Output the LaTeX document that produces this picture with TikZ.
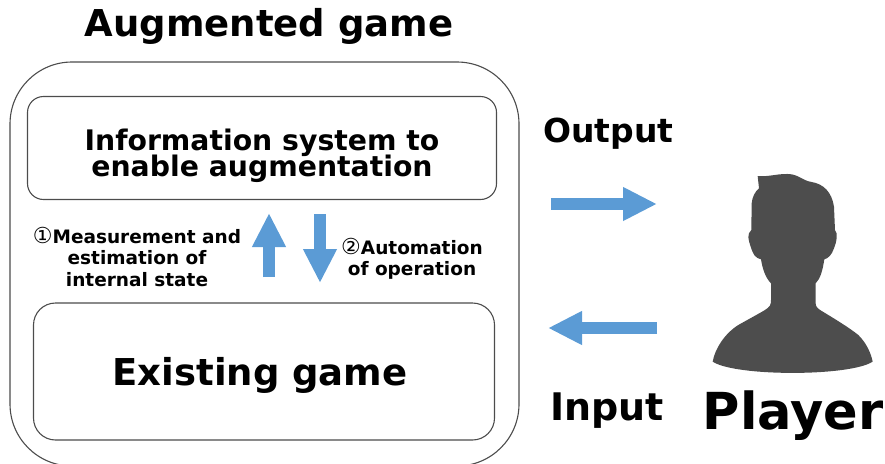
\documentclass[tikz,border=0pt]{standalone}
\usepackage{fontspec}
\setmainfont{DejaVu Sans}
\usetikzlibrary{positioning,arrows.meta}
\definecolor{arrowblue}{HTML}{5B9BD5}
\definecolor{personfill}{HTML}{4D4D4D}
\newcommand{\circnum}[1]{{\fontsize{22}{22}\mdseries\selectfont #1}}
\begin{document}
\begin{tikzpicture}[x=1pt, y=-1pt,
		box/.style = {draw=black!70, line width=1.1pt, rounded corners=#1, inner sep=0pt},
		label/.style = {font=\bfseries, align=center, inner sep=0pt},
		flow/.style = {draw=arrowblue, line width=12pt, -{Triangle[length=34pt, width=31.5pt]}}]
		\useasboundingbox[clip] (0,0) rectangle (885,463);
		% boxes
		\node[box=62pt, minimum width=509pt, minimum height=404pt] (augmented) at (264.5,264) {};
		\node[box=16pt, minimum width=469pt, minimum height=103pt] (info) at (262,148) {};
		\node[box=22pt, minimum width=461pt, minimum height=137pt] (existing) at (264,371.5) {};
		% labels
		\node[label, font=\bfseries\fontsize{37}{37}\selectfont] (title) at (269,26) {Augmented game};
		\node[label, font=\bfseries\fontsize{28.3}{36}\selectfont] (infotext) at (262,156) {Information system to\\[-9.5pt]enable augmentation};
		\node[label, font=\bfseries\fontsize{37}{37}\selectfont] (existingtext) at (260,375) {Existing game};
		\node[label, font=\bfseries\fontsize{18.5}{21.5}\selectfont] (measure) at (137,257) {\circnum{①}Measurement and\\estimation of\\internal state};
		\node[label, font=\bfseries\fontsize{18.5}{21.5}\selectfont] (auto) at (412,259) {\circnum{②}Automation\\of operation};
		\node[label, font=\bfseries\fontsize{33}{33}\selectfont] (output) at (608.5,134) {Output};
		\node[label, font=\bfseries\fontsize{38}{38}\selectfont] (input) at (607,411) {Input};
		\node[label, font=\bfseries\fontsize{51}{51}\selectfont] (player) at (793,416) {Player};
		% arrows
		\coordinate (upstart) at (269,277);
		\coordinate (upend) at (269,213);
		\coordinate (downstart) at (320,214);
		\coordinate (downend) at (320,283);
		\coordinate (outstart) at (551,204);
		\coordinate (outend) at (657,204);
		\coordinate (instart) at (657,328);
		\coordinate (inend) at (548,328);
		\draw[flow] (upstart) -- (upend);
		\draw[flow] (downstart) -- (downend);
		\draw[flow] (outstart) -- (outend);
		\draw[flow] (instart) -- (inend);
		% person
		\begin{scope}[shift={(690,160)}, x=.3333pt, y=-.3333pt]
			\fill[personfill] (203,48) .. controls (235,52) and (270,38) .. (305,43)
				.. controls (330,48) and (340,62) .. (365,66)
				.. controls (400,72) and (425,95) .. (432,140)
				-- (435,210) .. controls (445,220) and (440,245) .. (432,265)
				.. controls (425,285) and (415,295) .. (403,298)
				.. controls (398,330) and (392,355) .. (377,370)
				-- (377,430) .. controls (377,442) and (385,447) .. (400,456)
				.. controls (440,480) and (480,505) .. (505,525)
				.. controls (530,550) and (543,580) .. (548,605)
				.. controls (480,650) and (135,650) .. (68,605)
				.. controls (75,565) and (105,520) .. (145,495)
				.. controls (175,478) and (205,462) .. (225,450)
				.. controls (240,440) and (243,435) .. (243,420)
				-- (243,370) .. controls (228,355) and (218,330) .. (213,298)
				.. controls (195,295) and (188,280) .. (182,260)
				.. controls (175,240) and (170,222) .. (184,210)
				-- (185,130) .. controls (187,110) and (195,95) .. (207,85)
				-- cycle;
		\end{scope}
	\end{tikzpicture}
\end{document}
